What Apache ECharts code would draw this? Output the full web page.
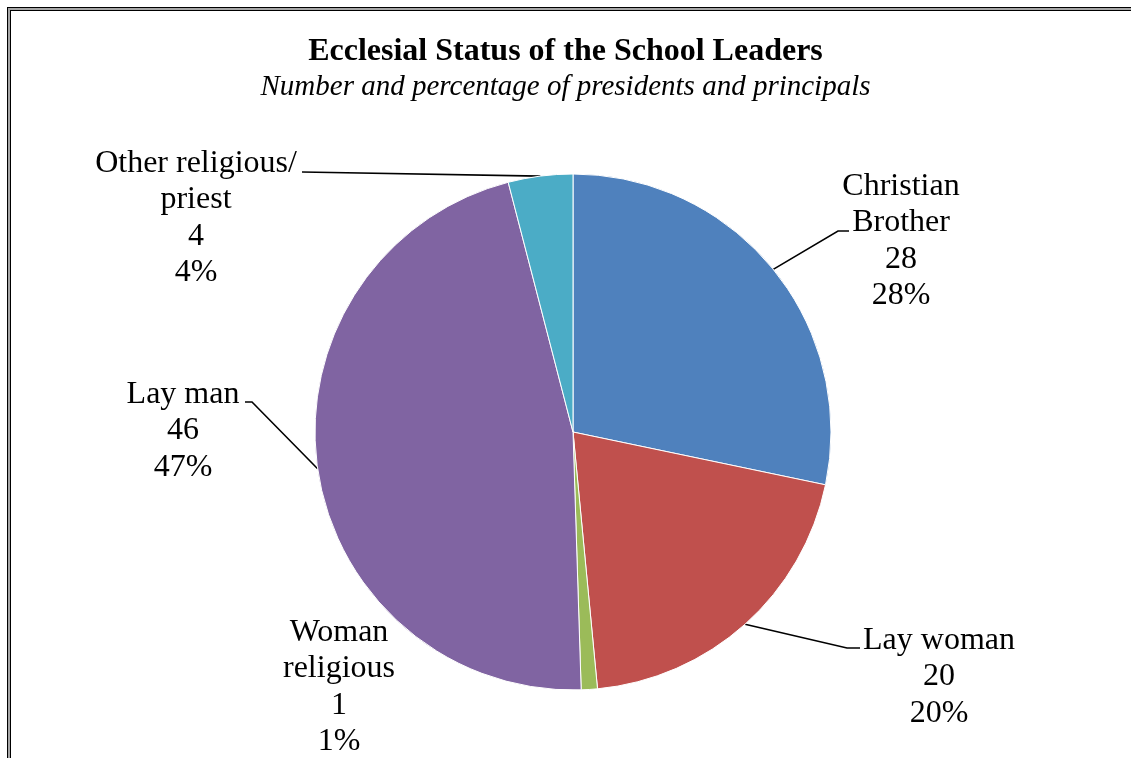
<!DOCTYPE html>
<html>
<head>
<meta charset="utf-8">
<title>Ecclesial Status of the School Leaders</title>
<script src="https://cdn.jsdelivr.net/npm/echarts@6/dist/echarts.min.js"></script>
<style>
  html, body { margin: 0; padding: 0; background: #fff; }
  #chart { width: 1131px; height: 758px; }
</style>
</head>
<body>
<div id="chart"></div>
<script>
// Leader categories and head counts
const categories = ['Christian\nBrother', 'Lay woman', 'Woman\nreligious', 'Lay man', 'Other religious/\npriest'];
const counts = [28, 20, 1, 46, 4];
const colors = ['#4F81BD', '#C0504D', '#9BBB59', '#8064A2', '#4BACC6'];

const titleText = 'Ecclesial Status of the School Leaders';
const subtitleText = 'Number and percentage of presidents and principals';

// Where each label block sits, and the bend/end of its leader line
const labelSpots = [
  { x: 901, y: 241, bend: [[838, 231], [849, 231]] },
  { x: 939, y: 677, bend: [[847, 648], [860, 648]] },
  { x: 339, y: 687, bend: null },
  { x: 183, y: 431, bend: [[252, 402], [245, 402]] },
  { x: 196, y: 218, bend: [[302, 172]] }
];

const serif = '"Liberation Serif", "Times New Roman", serif';

const chart = echarts.init(document.getElementById('chart'), null, { renderer: 'canvas' });

chart.setOption({
  backgroundColor: '#fff',
  animation: false,
  title: [
    {
      text: titleText,
      left: 'center',
      top: 31,
      textStyle: { fontFamily: serif, fontSize: 32, fontWeight: 'bold', color: '#000', lineHeight: 32 }
    },
    {
      text: subtitleText,
      left: 'center',
      top: 68,
      textStyle: { fontFamily: serif, fontSize: 29, fontStyle: 'italic', fontWeight: 'normal', color: '#000', lineHeight: 29 }
    }
  ],
  graphic: [
    // double frame along the top and left edges
    { type: 'rect', shape: { x: 9, y: 9, width: 1300, height: 900 }, style: { fill: null, stroke: '#000', lineWidth: 4 }, silent: true },
    { type: 'rect', shape: { x: 9, y: 9, width: 1300, height: 900 }, style: { fill: null, stroke: '#a6a6a6', lineWidth: 2 }, silent: true }
  ],
  series: [{
    type: 'pie',
    center: [573, 432],
    radius: 258,
    startAngle: 90,
    clockwise: true,
    percentPrecision: 0,
    itemStyle: { borderColor: '#fff', borderWidth: 1 },
    label: {
      show: true,
      formatter: '{b}\n{c}\n{d}%',
      fontFamily: serif,
      fontSize: 32,
      lineHeight: 36.5,
      color: '#000',
      align: 'center'
    },
    labelLine: {
      show: true,
      lineStyle: { color: '#000', width: 1.6 }
    },
    labelLayout: function (params) {
      const spot = labelSpots[params.dataIndex];
      const out = { x: spot.x, y: spot.y, align: 'center', verticalAlign: 'middle' };
      if (spot.bend && params.labelLinePoints) {
        out.labelLinePoints = [params.labelLinePoints[0]].concat(spot.bend);
      }
      return out;
    },
    data: categories.map(function (name, i) {
      return {
        name: name,
        value: counts[i],
        itemStyle: { color: colors[i] },
        labelLine: { show: labelSpots[i].bend !== null }
      };
    })
  }]
});
</script>
</body>
</html>
